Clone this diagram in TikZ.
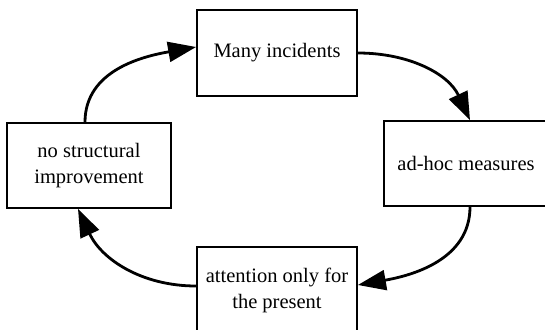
\documentclass[tikz,border=0pt]{standalone}
\usepackage{fontspec}
\setmainfont{Liberation Serif}
\usetikzlibrary{arrows.meta}
\begin{document}
\begin{tikzpicture}[x=1pt,y=-1pt,
        box/.style={draw,line width=1.8pt,fill=white,align=center,font=\fontsize{20.5}{26}\selectfont,inner sep=0pt},
        flow/.style={line width=2.8pt,-{Triangle[length=28pt,width=20pt]}}]
        \useasboundingbox (0,0) rectangle (545,329);
        \node[box,minimum width=160pt,minimum height=86pt] (inc) at (277,53) {Many incidents};
        \node[box,minimum width=164pt,minimum height=85pt] (adhoc) at (466,163.5) {ad-hoc measures};
        \node[box,minimum width=160pt,minimum height=86pt] (attn) at (277,290) {attention only for\\the present};
        \node[box,minimum width=164pt,minimum height=85pt] (nostruct) at (89,165.5) {no structural\\improvement};

        \draw[flow] ([xshift=-4pt]nostruct.north) to[out=90,in=190] ([yshift=6pt]inc.west);
        \draw[flow] (inc.east) to[out=0,in=115] ([xshift=4pt]adhoc.north);
        \draw[flow] ([xshift=4pt]adhoc.south) to[out=-90,in=10] ([yshift=5pt]attn.east);
        \draw[flow] ([yshift=4pt]attn.west) to[out=180,in=-65] ([xshift=-11pt]nostruct.south);
    \end{tikzpicture}
\end{document}
